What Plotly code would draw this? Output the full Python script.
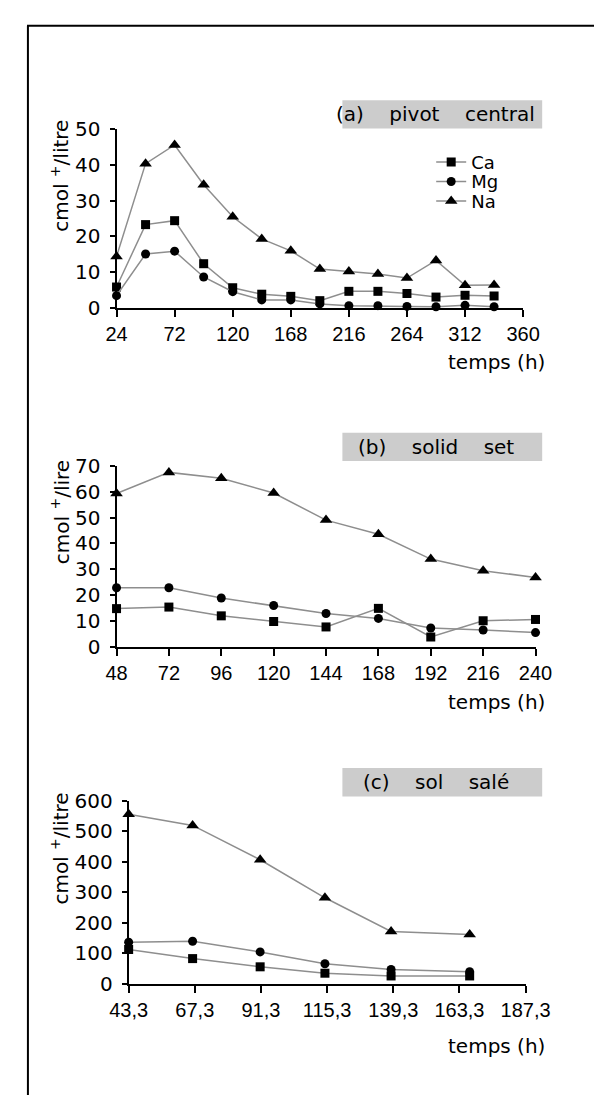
import plotly.graph_objects as go

# page body has an 8px margin: keep the figure inside the 602x1103 window
PAGE_W, PAGE_H = 602, 1103
OFF = 8
W, H = PAGE_W - 2 * OFF, PAGE_H - 2 * OFF

# ---------------- data ----------------
# (a) pivot central
t_a = [24, 48, 72, 96, 120, 144, 168, 192, 216, 240, 264, 288, 312, 336]
ca_a = [5.9, 23.3, 24.4, 12.4, 5.7, 3.9, 3.3, 2.1, 4.7, 4.7, 4.1, 3.1, 3.6, 3.4]
mg_a = [3.5, 15.1, 15.9, 8.7, 4.6, 2.3, 2.3, 1.2, 0.7, 0.7, 0.5, 0.4, 0.8, 0.4]
na_a = [14.4, 40.3, 45.5, 34.4, 25.5, 19.3, 16.0, 10.9, 10.2, 9.5, 8.4, 13.3, 6.4, 6.5]

# (b) solid set
t_b = [48, 72, 96, 120, 144, 168, 192, 216, 240]
ca_b = [14.7, 15.3, 11.9, 9.7, 7.6, 14.8, 3.7, 10.0, 10.5]
mg_b = [22.8, 22.8, 18.8, 15.9, 12.8, 10.9, 7.2, 6.4, 5.4]
na_b = [59.3, 67.5, 65.2, 59.5, 49.0, 43.5, 33.9, 29.4, 26.8]

# (c) sol salé
t_c = [43.3, 66.5, 91.0, 114.5, 138.5, 167.0]
ca_c = [112, 82, 55, 34, 25, 25]
mg_c = [136, 139, 104, 65, 46, 39]
na_c = [557, 520, 407, 282, 171, 161]

# axis ticks
xt_a = [24, 72, 120, 168, 216, 264, 312, 360]
yt_a = [0, 10, 20, 30, 40, 50]
xt_b = [48, 72, 96, 120, 144, 168, 192, 216, 240]
yt_b = [0, 10, 20, 30, 40, 50, 60, 70]
xt_c = [43.3, 67.3, 91.3, 115.3, 139.3, 163.3, 187.3]
xt_c_text = ["43,3", "67,3", "91,3", "115,3", "139,3", "163,3", "187,3"]
yt_c = [0, 100, 200, 300, 400, 500, 600]

series_names = ["Ca", "Mg", "Na"]
symbols = ["square", "circle", "triangle-up"]
msizes = [9, 9, 11]

titles = ["(a)\u00a0\u00a0\u00a0 pivot\u00a0\u00a0\u00a0 central",
          "(b)\u00a0\u00a0\u00a0 solid\u00a0\u00a0\u00a0 set",
          "(c)\u00a0\u00a0\u00a0 sol\u00a0\u00a0\u00a0 salé"]
ytitles = ["cmol <sup>+</sup>/litre", "cmol <sup>+</sup>/lire", "cmol <sup>+</sup>/litre"]

LINE_COL = "#8e8e8e"
FONT = "DejaVu Sans"
XFONT = "Liberation Sans"

# ---------------- layout geometry (window pixels) ----------------
panels = [
    dict(x0=104.8, x1=544.4, ytop=119.3, ybot=302.7, t=t_a, ys=[ca_a, mg_a, na_a],
         xr=[24, 360], yr=[0, 50], xt=xt_a, xtt=[str(v) for v in xt_a], yt=yt_a,
         box=(349, 565, 90, 119), ytc=167, temps_y=358),
    dict(x0=104.8, x1=557.8, ytop=464.0, ybot=648.7, t=t_b, ys=[ca_b, mg_b, na_b],
         xr=[48, 240], yr=[0, 70], xt=xt_b, xtt=[str(v) for v in xt_b], yt=yt_b,
         box=(349, 565, 430, 459), ytc=511, temps_y=705),
    dict(x0=117.9, x1=547.1, ytop=806.7, ybot=993.3, t=t_c, ys=[ca_c, mg_c, na_c],
         xr=[43.3, 187.3], yr=[0, 600], xt=xt_c, xtt=xt_c_text, yt=yt_c,
         box=(349, 565, 773, 802), ytc=855, temps_y=1057),
]
legend_tops = [134.5, 154.5, 174.5]   # one legend per ion, stacked

def px(x):
    return (x - OFF) / W

def py(y):
    return 1 - (y - OFF) / H

fig = go.Figure()
layout = dict(
    width=W, height=H,
    margin=dict(l=0, r=0, t=0, b=0),
    paper_bgcolor="white", plot_bgcolor="white",
    font=dict(family=FONT, size=20, color="black"),
    shapes=[], annotations=[],
)

legend_ids = ["legend", "legend2", "legend3"]

for i, p in enumerate(panels):
    k = "" if i == 0 else str(i + 1)
    xa, ya = "x" + k, "y" + k
    for j in range(3):
        fig.add_trace(go.Scatter(
            x=p["t"], y=p["ys"][j], xaxis=xa, yaxis=ya,
            mode="lines+markers", name=series_names[j],
            showlegend=(i == 0), legend=legend_ids[j], cliponaxis=False,
            line=dict(color=LINE_COL, width=1.5),
            marker=dict(symbol=symbols[j], size=msizes[j], color="black"),
        ))
    layout["xaxis" + k] = dict(
        domain=[px(p["x0"]), px(p["x1"])], range=p["xr"], anchor=ya,
        tickmode="array", tickvals=p["xt"], ticktext=p["xtt"],
        showline=True, linecolor="black", linewidth=2,
        ticks="outside", ticklen=7, tickwidth=2, tickcolor="black",
        showgrid=False, zeroline=False, ticklabelstandoff=0,
        tickfont=dict(family=XFONT, size=20),
    )
    layout["yaxis" + k] = dict(
        domain=[py(p["ybot"]), py(p["ytop"])], range=p["yr"], anchor=xa,
        tickmode="array", tickvals=p["yt"],
        showline=True, linecolor="black", linewidth=2,
        ticks="outside", ticklen=5, tickwidth=2, tickcolor="black",
        showgrid=False, zeroline=False, ticklabelstandoff=5,
        tickfont=dict(family=FONT, size=20),
    )
    bx0, bx1, by0, by1 = p["box"]
    layout["shapes"].append(dict(
        type="rect", xref="paper", yref="paper",
        x0=px(bx0), x1=px(bx1), y0=py(by1), y1=py(by0),
        fillcolor="#cccccc", line=dict(width=0), layer="below"))
    layout["annotations"].append(dict(
        xref="paper", yref="paper", x=px((bx0 + bx1) / 2 - 7), y=py((by0 + by1) / 2),
        text=titles[i], showarrow=False, xanchor="center", yanchor="middle",
        font=dict(family=FONT, size=20)))
    layout["annotations"].append(dict(
        xref="paper", yref="paper", x=px(44), y=py(p["ytc"]),
        text=ytitles[i], showarrow=False, textangle=-90,
        xanchor="center", yanchor="middle", font=dict(family=FONT, size=20)))
    layout["annotations"].append(dict(
        xref="paper", yref="paper", x=px(570), y=py(p["temps_y"]),
        text="temps (h)", showarrow=False, xanchor="right", yanchor="middle",
        font=dict(family=FONT, size=20)))

# outer frame (left and top edges)
layout["shapes"].append(dict(type="line", xref="paper", yref="paper",
                             x0=px(9), x1=px(9), y0=py(14), y1=-0.05,
                             line=dict(color="black", width=2)))
layout["shapes"].append(dict(type="line", xref="paper", yref="paper",
                             x0=px(8), x1=1.05, y0=py(14), y1=py(14),
                             line=dict(color="black", width=2)))

for lid, top in zip(legend_ids, legend_tops):
    layout[lid] = dict(
        x=px(445), y=py(top), xanchor="left", yanchor="top",
        bgcolor="rgba(0,0,0,0)", borderwidth=0,
        font=dict(family=FONT, size=18),
        itemwidth=30,
    )

fig.update_layout(**layout)
fig.write_html("out.html")
